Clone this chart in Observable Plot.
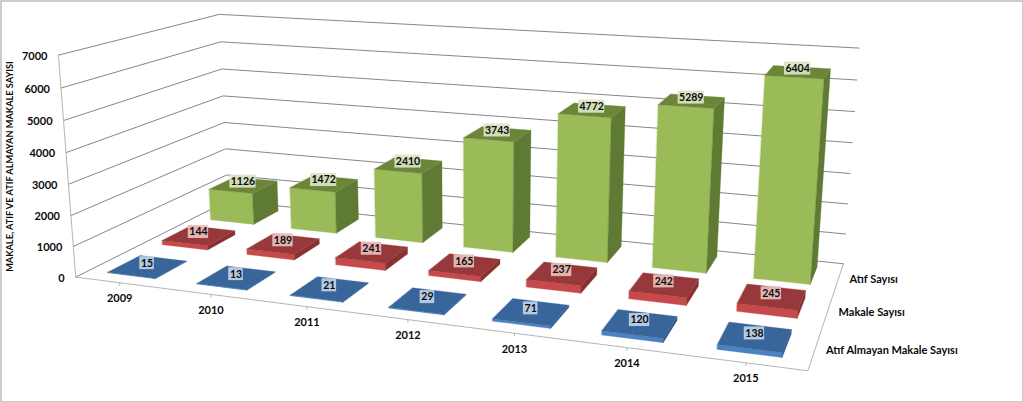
<!DOCTYPE html>
<html><head><meta charset="utf-8">
<style>html,body{margin:0;padding:0;background:#fff;overflow:hidden}svg{display:block}</style>
<script src="https://cdn.jsdelivr.net/npm/d3@7"></script>
<script src="https://cdn.jsdelivr.net/npm/@observablehq/plot@0.6"></script>
</head><body><div id="chart"></div>
<script>
const years = [2009, 2010, 2011, 2012, 2013, 2014, 2015];
const seriesNames = ["Atıf Almayan Makale Sayısı", "Makale Sayısı", "Atıf Sayısı"];
const atifAlmayan = [15, 13, 21, 29, 71, 120, 138];
const makale = [144, 189, 241, 165, 237, 242, 245];
const atif = [1126, 1472, 2410, 3743, 4772, 5289, 6404];
const yTicks = [0, 1000, 2000, 3000, 4000, 5000, 6000, 7000];
const yTitle = "MAKALE, ATIF VE ATIF ALMAYAN MAKALE SAYISI";
const colors = [
  {front: "#4a82c3", side: "#2f5685", top: "#38659a", pale: "#bfd1e8"},
  {front: "#c8494a", side: "#8a302e", top: "#97383a", pale: "#e8bebc"},
  {front: "#9bbb59", side: "#5f7a33", top: "#6b8539", pale: "#d9e5c4"}
];
const W = 1023, H = 402, nU = years.length, nV = seriesNames.length, hMax = 7000;

// Camera: a 3x4 projective matrix fitted to the reference's box corners.
const anchors = [
  [0,0,0,75,276],[7,0,0,808,370],[7,3,0,843,263],[0,3,0,229,200],
  [0,0,7000,59,54],[7,3,7000,859,48],[0,3,7000,218,14],
  [0,0,3000,68,184],[0,3,3000,223,122],[7,3,3000,849,173],
  [.5,0,0,119,283],[1.5,0,0,210,294],[2.5,0,0,306,307],[3.5,0,0,408,319],[4.5,0,0,514,333],[5.5,0,0,626,347],[6.5,0,0,745,362]
];
function fit() {
  const n = 11, A = d3.range(n).map(() => new Array(n + 1).fill(0));
  const add = (r, b) => { for (let i = 0; i < n; i++) { for (let j = 0; j < n; j++) A[i][j] += r[i] * r[j]; A[i][n] += r[i] * b; } };
  for (const [u, v, h0, X, Y] of anchors) {
    const h = h0 / 1000;
    add([u, v, h, 1, 0, 0, 0, 0, -X * u, -X * v, -X * h], X);
    add([0, 0, 0, 0, u, v, h, 1, -Y * u, -Y * v, -Y * h], Y);
  }
  for (let i = 0; i < n; i++) {
    let p = i; for (let k = i + 1; k < n; k++) if (Math.abs(A[k][i]) > Math.abs(A[p][i])) p = k;
    [A[i], A[p]] = [A[p], A[i]];
    for (let k = 0; k < n; k++) if (k !== i) { const f = A[k][i] / A[i][i]; for (let j = i; j <= n; j++) A[k][j] -= f * A[i][j]; }
  }
  return A.map((r, i) => r[n] / r[i]);
}
const P = fit();
const proj = (u, v, h0) => {
  const h = h0 / 1000, w = P[8] * u + P[9] * v + P[10] * h + 1;
  return [(P[0] * u + P[1] * v + P[2] * h + P[3]) / w, (P[4] * u + P[5] * v + P[6] * h + P[7]) / w];
};

const halfU = 0.27, halfV = 0.29;
const gridRows = [], edgeRows = [], faces = [], barLabels = [], labelBoxes = [];
yTicks.forEach(t => {
  [[0,0],[0,nV],[nU,nV]].forEach(([u,v]) => { const [x,y] = proj(u,v,t); gridRows.push({x,y,t}); });
});
[[[0,0,hMax],[0,0,0],[nU,0,0],[nU,nV,0]]].forEach(path => path.forEach(p => { const [x,y] = proj(...p); edgeRows.push({x,y}); }));
const tickRows = years.map((year,i) => {
  const [x,y] = proj(i + .5, 0, 0);
  return {year: String(year), x, y, x2: x, y2: y + 3};
});
let id = 0;
const quad = (a,b,c,d,fill) => {
  const k = id++;
  const [pa,pb,pc,pd] = [a,b,c,d].map(p => proj(...p));
  faces.push({k, fill, x1: pa[0], y1: pa[1], x2: pd[0], y2: pd[1]});
  faces.push({k, fill, x1: pb[0], y1: pb[1], x2: pc[0], y2: pc[1]});
};
[atif, makale, atifAlmayan].forEach((vals, r) => {
  const s = 2 - r, col = colors[s];
  vals.forEach((val, i) => {
    const u0 = i + .5 - halfU, u1 = i + .5 + halfU, v0 = s + .5 - halfV, v1 = s + .5 + halfV;
    quad([u0,v0,0],[u1,v0,0],[u1,v0,val],[u0,v0,val],col.front);
    quad([u1,v0,0],[u1,v1,0],[u1,v1,val],[u1,v0,val],col.side);
    quad([u0,v0,val],[u1,v0,val],[u1,v1,val],[u0,v1,val],col.top);
    const [x,y] = proj(i + .5, s + .5, val), w = 2.9 * String(val).length + 1.5;
    labelBoxes.push({x1:x-w-1, x2:x+w-1, y1:y-10.5, y2:y+2.5, fill:col.pale});
    barLabels.push({x:x-1, y:y-4, val:String(val)});
  });
});
const yLabels = yTicks.map(t => { const [x,y] = proj(0,0,t); return {t:String(t),x,y}; });
const seriesLabels = seriesNames.map((name,s) => { const [x,y] = proj(nU, s + .5, 0); return {name,x,y}; });
const [tx,ty] = proj(0,0,hMax/2);
const font = {fontFamily:"Lato, sans-serif", fontWeight:"bold", fill:"#0a0a0a"};

document.getElementById("chart").append(Plot.plot({
  width: W, height: H, margin: 0,
  x: {domain:[0,W], range:[0,W], axis:null},
  y: {domain:[0,H], range:[0,H], axis:null},
  color: {type:"identity"},
  marks: [
    Plot.frame({stroke:"#bdbdbd", inset:0.5, strokeWidth:1.5}),
    Plot.line(gridRows, {x:"x", y:"y", z:"t", stroke:"#868686", strokeWidth:1}),
    Plot.line(edgeRows, {x:"x", y:"y", stroke:"#b5b5b5", strokeWidth:1}),
    Plot.link(tickRows, {x1:"x", y1:"y", x2:"x2", y2:"y2", stroke:"#b5b5b5"}),
    Plot.area(faces, {x1:"x1", y1:"y1", x2:"x2", y2:"y2", z:"k", fill:"fill", stroke:"fill", strokeWidth:0.3}),
    Plot.rect(labelBoxes, {x1:"x1", x2:"x2", y1:"y1", y2:"y2", fill:"fill", fillOpacity:0.92}),
    Plot.text(barLabels, {x:"x", y:"y", text:"val", fontSize:10.5, ...font}),
    Plot.text(yLabels, {x:"x", y:"y", text:"t", dx:-11, dy:1, textAnchor:"end", fontSize:11, ...font}),
    Plot.text(tickRows, {x:"x", y:"y", text:"year", dy:16, fontSize:11, ...font}),
    Plot.text(seriesLabels, {x:"x", y:"y", text:"name", dx:11, dy:1, textAnchor:"start", fontSize:11, ...font}),
    Plot.text([yTitle], {x:()=>tx, y:()=>ty, text:d=>d, dx:-57, dy:-2, rotate:-90, fontSize:9.2, ...font})
  ]
}));
</script></body></html>
